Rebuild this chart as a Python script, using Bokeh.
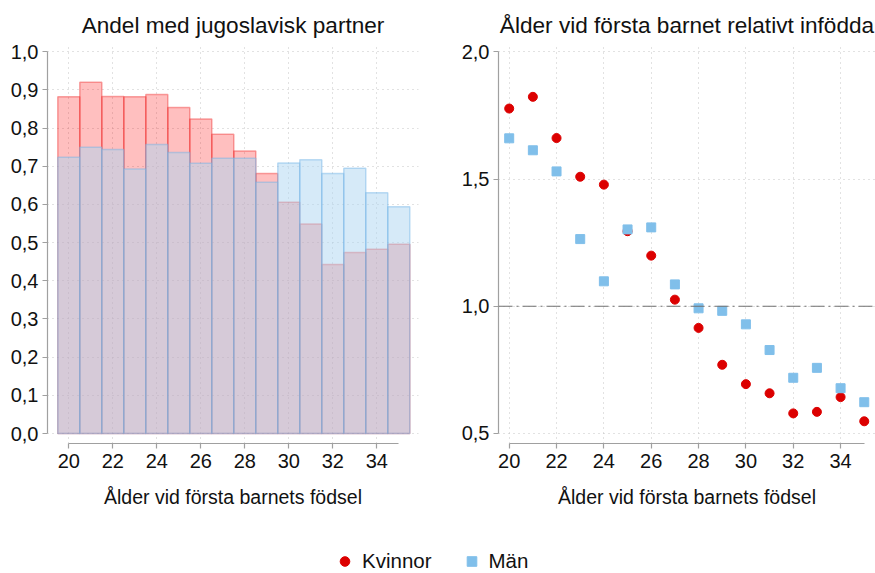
from bokeh.plotting import figure
from bokeh.models import (Range1d, FixedTicker, CustomJSTickFormatter, Span,
                          Legend, LegendItem, ColumnDataSource)
from bokeh.layouts import column, row
from bokeh.embed import file_html
from bokeh.resources import INLINE

# ---------------- data ----------------
ages = list(range(20, 36))
women_share = [0.882, 0.920, 0.883, 0.882, 0.888, 0.854, 0.824, 0.784,
               0.740, 0.681, 0.606, 0.549, 0.443, 0.474, 0.483, 0.496]
men_share = [0.724, 0.750, 0.744, 0.693, 0.757, 0.736, 0.708, 0.721,
             0.721, 0.658, 0.709, 0.717, 0.681, 0.695, 0.631, 0.594]
women_ratio = [1.777, 1.823, 1.661, 1.509, 1.478, 1.295, 1.199, 1.026,
               0.915, 0.770, 0.694, 0.658, 0.579, 0.585, 0.643, 0.548]
men_ratio = [1.660, 1.613, 1.530, 1.264, 1.098, 1.302, 1.310, 1.086,
             0.992, 0.982, 0.929, 0.828, 0.719, 0.758, 0.678, 0.623]

x_ticks = [20, 22, 24, 26, 28, 30, 32, 34]
left_y_ticks = [0.0, 0.1, 0.2, 0.3, 0.4, 0.5, 0.6, 0.7, 0.8, 0.9, 1.0]
right_y_ticks = [0.5, 1.0, 1.5, 2.0]
reference_level = 1.0

title_left = "Andel med jugoslavisk partner"
title_right = "Ålder vid första barnet relativt infödda"
x_label = "Ålder vid första barnets födsel"
label_women = "Kvinnor"
label_men = "Män"

# ---------------- style ----------------
FONT = "Liberation Sans"
RED = "#dc0000"
BLUE = "#80bfea"
AXIS_GRAY = "#a0a0a0"
GRID_GRAY = "#c4c4c4"

comma_fmt = CustomJSTickFormatter(code="return tick.toFixed(1).replace('.', ',');")


def style(p, yticks, ybounds):
    p.outline_line_color = None
    p.background_fill_color = "white"
    p.border_fill_color = "white"
    p.title.text_font = FONT
    p.title.text_font_size = "22.6px"
    p.title.text_font_style = "normal"
    p.title.text_color = "#111111"
    p.title.align = "center"
    p.title.standoff = 11
    for ax in (p.xaxis[0], p.yaxis[0]):
        ax.axis_line_color = AXIS_GRAY
        ax.axis_line_width = 1.2
        ax.major_tick_line_color = AXIS_GRAY
        ax.major_tick_line_width = 1.2
        ax.major_tick_out = 5
        ax.major_tick_in = 0
        ax.minor_tick_line_color = None
        ax.major_label_text_font = FONT
        ax.major_label_text_font_size = "20px"
        ax.major_label_text_color = "#111111"
        ax.major_label_standoff = 5
        ax.axis_label_text_font = FONT
        ax.axis_label_text_font_size = "19.5px"
        ax.axis_label_text_font_style = "normal"
        ax.axis_label_text_color = "#111111"
    p.xaxis.ticker = FixedTicker(ticks=x_ticks)
    p.xaxis.bounds = (ages[0], ages[-1])
    p.xaxis.axis_label = x_label
    p.xaxis.axis_label_standoff = 15
    p.yaxis.ticker = FixedTicker(ticks=yticks)
    p.yaxis.formatter = comma_fmt
    p.yaxis.bounds = ybounds
    p.yaxis.major_label_standoff = 4
    for g in (p.xgrid[0], p.ygrid[0]):
        g.grid_line_color = GRID_GRAY
        g.grid_line_dash = "1 4"
        g.grid_line_width = 1


# ---------------- left panel ----------------
p1 = figure(width=440, height=521, output_backend="svg", toolbar_location=None,
            x_range=Range1d(19.032, 35.896), y_range=Range1d(-0.0262, 1.0218),
            min_border_left=47, min_border_right=22, min_border_top=43,
            min_border_bottom=78, title=title_left)
src1 = ColumnDataSource(dict(age=ages, women=women_share, men=men_share))
p1.vbar(x="age", top="women", width=1.0, bottom=0, source=src1,
        fill_color="#ff0000", fill_alpha=0.25,
        line_color="#ee2222", line_alpha=0.4, line_width=1.5)
p1.vbar(x="age", top="men", width=1.0, bottom=0, source=src1,
        fill_color="#add5f1", fill_alpha=0.5,
        line_color="#72b4e6", line_alpha=0.45, line_width=1.5)
style(p1, left_y_ticks, (left_y_ticks[0], left_y_ticks[-1]))

# ---------------- right panel ----------------
p2 = figure(width=435, height=521, output_backend="svg", toolbar_location=None,
            x_range=Range1d(19.548, 35.475), y_range=Range1d(0.4607, 2.0326),
            min_border_left=58, min_border_right=0, min_border_top=43,
            min_border_bottom=78, title=title_right)
src2 = ColumnDataSource(dict(age=ages, women=women_ratio, men=men_ratio))
p2.add_layout(Span(location=reference_level, dimension="width",
                   line_color="#707070", line_width=1.2, line_dash="14 4 2 4"))
p2.scatter(x="age", y="women", source=src2, marker="circle", size=9,
           fill_color=RED, line_color=RED)
p2.scatter(x="age", y="men", source=src2, marker="square", size=9,
           fill_color=BLUE, line_color=BLUE)
style(p2, right_y_ticks, (right_y_ticks[0], right_y_ticks[-1]))

# ---------------- legend ----------------
# The legend strip shows the same series; its ranges keep the points out of view.
leg = figure(width=875, height=52, output_backend="svg", toolbar_location=None,
             x_range=Range1d(0, 1), y_range=Range1d(0, 1),
             x_axis_type=None, y_axis_type=None, min_border=0)
leg.outline_line_color = None
leg.xgrid.visible = False
leg.ygrid.visible = False
rw = leg.scatter(x="age", y="women", source=src2, marker="circle",
                 fill_color=RED, line_color=RED)
rm = leg.scatter(x="age", y="men", source=src2, marker="square",
                 fill_color=BLUE, line_color=BLUE)
legend = Legend(items=[LegendItem(label=label_women, renderers=[rw]),
                       LegendItem(label=label_men, renderers=[rm])],
                orientation="horizontal", location=(332, 0),
                glyph_width=25, glyph_height=24, label_standoff=5, spacing=27,
                padding=0, margin=0, border_line_color=None,
                background_fill_alpha=0,
                label_text_font=FONT, label_text_font_size="20.5px",
                label_text_color="#111111")
leg.add_layout(legend, "center")

layout = column(row(p1, p2), leg)

with open("out.html", "w") as f:
    f.write(file_html(layout, INLINE))
